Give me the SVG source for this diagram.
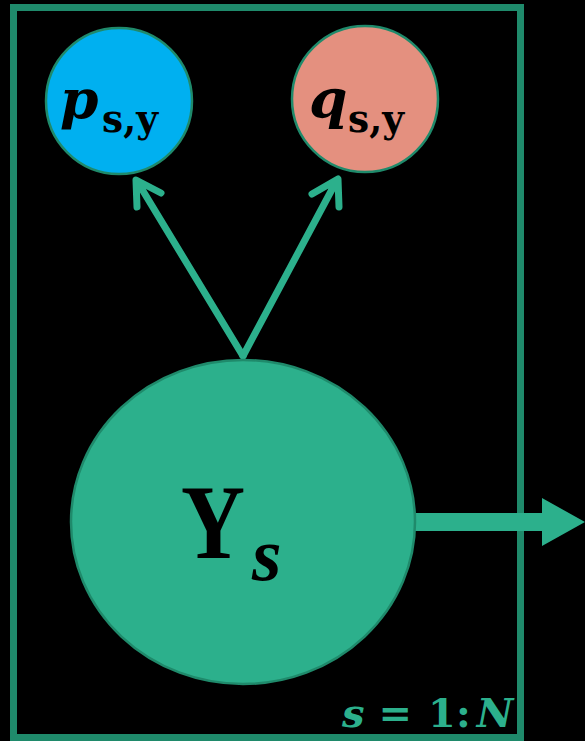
<svg xmlns="http://www.w3.org/2000/svg" width="585" height="741" viewBox="0 0 585 741">
<style>
.plate{fill:none;stroke:#1f8a6b;stroke-width:7}
.node{stroke:#1f8a6b;stroke-width:2.5}
.edge{stroke:#2cb08c;stroke-width:7;stroke-linecap:round;stroke-linejoin:round;fill:none}
.math{font-family:"DejaVu Serif","Liberation Serif",serif;font-weight:bold;fill:#000}
.ys{font-family:"Liberation Serif","DejaVu Serif",serif;font-weight:bold;fill:#000}
.lbl{font-family:"DejaVu Serif","Liberation Serif",serif;font-weight:bold;fill:#2cb08c}
</style>
<rect x="0" y="0" width="585" height="741" fill="#000"/>
<g id="plate">
<rect class="plate" x="13.5" y="7.5" width="507" height="730"/>
<text class="lbl" x="342" y="727" font-size="40"><tspan font-style="italic">s</tspan><tspan dx="14">=</tspan><tspan dx="16">1:</tspan><tspan dx="6" font-style="italic">N</tspan></text>
</g>
<g id="connectors">
<path class="edge" d="M243,356 L137,181 M137,207 L136,180 L161,193"/>
<path class="edge" d="M243,356 L337,180 M312,194 L338,179 L339,207"/>
<path d="M412,513 H542 V498 L585,522 L542,546 V531 H412 Z" fill="#2cb08c"/>
</g>
<g id="p">
<circle class="node" cx="119" cy="101" r="73" fill="#00b0f0"/>
<text class="math" x="60" y="118" font-size="55"><tspan font-style="italic">p</tspan><tspan x="102" y="132" font-size="40" textLength="56" lengthAdjust="spacingAndGlyphs">s,y</tspan></text>
</g>
<g id="q">
<circle class="node" cx="365" cy="99" r="73" fill="#e4907f"/>
<text class="math" x="309" y="118" font-size="55"><tspan font-style="italic">q</tspan><tspan x="348" y="132" font-size="40" textLength="56" lengthAdjust="spacingAndGlyphs">s,y</tspan></text>
</g>
<g id="Y">
<ellipse class="node" cx="243" cy="522" rx="172" ry="162" fill="#2cb08c"/>
<text class="ys" x="181" y="558" font-size="106"><tspan textLength="64" lengthAdjust="spacingAndGlyphs">Y</tspan><tspan x="252" y="580" font-size="76" font-style="italic">s</tspan></text>
</g>
</svg>
